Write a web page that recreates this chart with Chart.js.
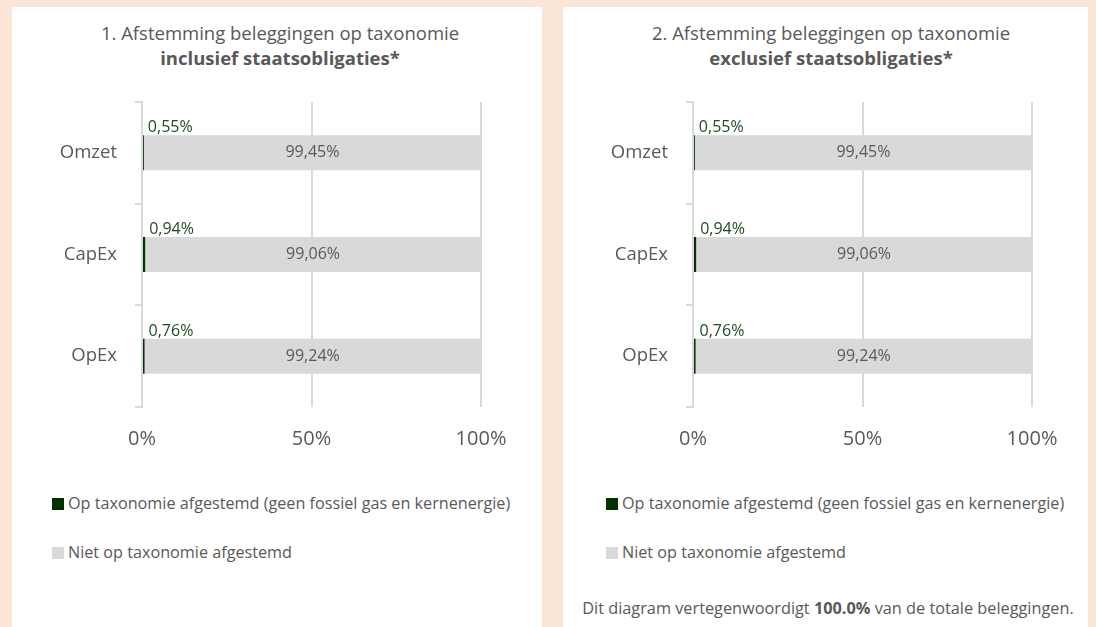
<!DOCTYPE html>
<html>
<head>
<meta charset="utf-8">
<script src="https://cdn.jsdelivr.net/npm/chart.js@4.4.1/dist/chart.umd.min.js"></script>
<style>
  body { margin: 0; width: 1096px; height: 627px; background: #fbe5d6; overflow: hidden;
         font-family: "Open Sans", sans-serif; color: #595959; }
  .panel { position: absolute; top: 7px; height: 620px; background: #fff; }
  .title { position: absolute; top: 13px; left: 0; width: 536px; text-align: center;
           font-size: 18.5px; line-height: 25px; }
  .panel canvas { position: absolute; left: 0; top: 80px; }
  .legend-item { position: absolute; font-size: 16.2px; line-height: 20px; white-space: nowrap; }
  .legend-item span { display: inline-block; width: 12px; height: 12px; margin-right: 4px;
                      vertical-align: -1px; }
  .note { position: absolute; top: 591px; left: 0; width: 530px; text-align: center;
          font-size: 16.3px; line-height: 20px; white-space: nowrap; }
</style>
</head>
<body>

<div class="panel" style="left:12px; width:530px;">
  <div class="title">1. Afstemming beleggingen op taxonomie<br><b>inclusief staatsobligaties*</b></div>
  <canvas id="chart1" width="530" height="380"></canvas>
  <div class="legend-item" style="left:40px; top:486px;"><span style="background:#003300"></span>Op taxonomie afgestemd (geen fossiel gas en kernenergie)</div>
  <div class="legend-item" style="left:40px; top:535px;"><span style="background:#d9d9d9"></span>Niet op taxonomie afgestemd</div>
</div>

<div class="panel" style="left:563px; width:525px;">
  <div class="title">2. Afstemming beleggingen op taxonomie<br><b>exclusief staatsobligaties*</b></div>
  <canvas id="chart2" width="525" height="380"></canvas>
  <div class="legend-item" style="left:43px; top:486px;"><span style="background:#003300"></span>Op taxonomie afgestemd (geen fossiel gas en kernenergie)</div>
  <div class="legend-item" style="left:43px; top:535px;"><span style="background:#d9d9d9"></span>Niet op taxonomie afgestemd</div>
  <div class="note">Dit diagram vertegenwoordigt <b>100.0%</b> van de totale beleggingen.</div>
</div>

<script>
// data
const categories = ['Omzet', 'CapEx', 'OpEx'];
const alignedIncl = [0.55, 0.94, 0.76];
const notAlignedIncl = [99.45, 99.06, 99.24];
const alignedExcl = [0.55, 0.94, 0.76];
const notAlignedExcl = [99.45, 99.06, 99.24];
const xTicks = [0, 50, 100];

const seriesNames = ['Op taxonomie afgestemd (geen fossiel gas en kernenergie)', 'Niet op taxonomie afgestemd'];
const green = '#003300';
const grey = '#d9d9d9';
const textGrey = '#595959';
const fontFamily = '"Open Sans", sans-serif';

function pct(v) {
    return v.toFixed(2).replace('.', ',') + '%';
}

// simple value labels: green one above the bar start, grey one centred in the bar
const valueLabels = {
    id: 'valueLabels',
    afterDatasetsDraw(chart) {
        const ctx = chart.ctx;
        ctx.save();
        ctx.font = '16px ' + fontFamily;
        ctx.textBaseline = 'middle';
        chart.data.datasets.forEach((ds, i) => {
            chart.getDatasetMeta(i).data.forEach((bar, j) => {
                const txt = pct(ds.data[j]);
                if (i === 0) {
                    ctx.fillStyle = '#1e4d1e';
                    ctx.textAlign = 'left';
                    ctx.fillText(txt, bar.x + 4, bar.y - 25);
                } else {
                    ctx.fillStyle = textGrey;
                    ctx.textAlign = 'center';
                    ctx.fillText(txt, (bar.base + bar.x) / 2, bar.y);
                }
            });
        });
        ctx.restore();
    }
};

function makeChart(id, aligned, notAligned, rightPad) {
    return new Chart(document.getElementById(id), {
        type: 'bar',
        data: {
            labels: categories,
            datasets: [
                { label: seriesNames[0], data: aligned, backgroundColor: green },
                { label: seriesNames[1], data: notAligned, backgroundColor: grey }
            ]
        },
        options: {
            indexAxis: 'y',
            responsive: false,
            animation: false,
            categoryPercentage: 1,
            barPercentage: 0.345,
            layout: { padding: { top: 15, right: rightPad, bottom: 0, left: 0 } },
            plugins: {
                legend: { display: false },
                tooltip: { enabled: false }
            },
            scales: {
                x: {
                    stacked: true,
                    min: 0,
                    max: 100,
                    afterBuildTicks: s => { s.ticks = xTicks.map(v => ({ value: v })); },
                    afterFit: s => { s.height = 60; },
                    grid: { color: grey, lineWidth: 2, drawTicks: false },
                    border: { display: false },
                    ticks: {
                        padding: 20,
                        color: textGrey,
                        font: { family: fontFamily, size: 20 },
                        callback: v => v + '%'
                    }
                },
                y: {
                    stacked: true,
                    afterFit: s => {
                        s.width = 130;
                        s.paddingTop = 0;
                        s.paddingBottom = 0;
                    },
                    grid: { drawOnChartArea: false, color: grey, lineWidth: 2, tickLength: 7 },
                    border: { display: true, color: grey, width: 2 },
                    ticks: {
                        padding: 18,
                        color: textGrey,
                        font: { family: fontFamily, size: 18.5 }
                    }
                }
            }
        },
        plugins: [valueLabels]
    });
}

makeChart('chart1', alignedIncl, notAlignedIncl, 61);
makeChart('chart2', alignedExcl, notAlignedExcl, 56);
</script>
</body>
</html>
